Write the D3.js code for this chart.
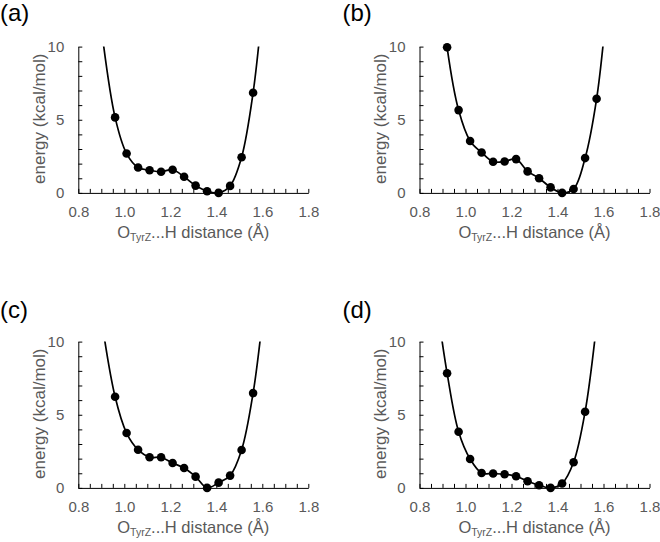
<!DOCTYPE html>
<html>
<head>
<meta charset="utf-8">
<script src="https://cdn.jsdelivr.net/npm/d3@7"></script>
<style>
  html, body { margin: 0; padding: 0; background: #fff; }
  svg { display: block; font-family: "Liberation Sans", Arial, sans-serif; }
</style>
</head>
<body>
<svg id="chart" width="660" height="542"></svg>
<script>
// ---- data ----
const panelLabels = ["(a)", "(b)", "(c)", "(d)"];
const xTickLabels = [0.8, 1.0, 1.2, 1.4, 1.6, 1.8];
const yTickLabels = [0, 5, 10];

const xA = [0.96, 1.01, 1.06, 1.11, 1.16, 1.21, 1.26, 1.31, 1.36, 1.41, 1.46, 1.51, 1.56];
const yA = [5.16, 2.69, 1.74, 1.55, 1.45, 1.58, 1.10, 0.50, 0.11, 0.00, 0.48, 2.44, 6.85];
const xB = [0.92, 0.97, 1.02, 1.07, 1.12, 1.17, 1.22, 1.27, 1.32, 1.37, 1.42, 1.47, 1.52, 1.57];
const yB = [9.95, 5.66, 3.55, 2.76, 2.13, 2.15, 2.31, 1.47, 1.00, 0.38, 0.00, 0.27, 2.38, 6.43];
const xC = [0.96, 1.01, 1.06, 1.11, 1.16, 1.21, 1.26, 1.31, 1.36, 1.41, 1.46, 1.51, 1.56];
const yC = [6.23, 3.75, 2.61, 2.09, 2.09, 1.70, 1.36, 0.77, 0.00, 0.36, 0.84, 2.59, 6.48];
const xD = [0.92, 0.97, 1.02, 1.07, 1.12, 1.17, 1.22, 1.27, 1.32, 1.37, 1.42, 1.47, 1.52];
const yD = [7.84, 3.84, 1.98, 1.02, 0.98, 0.93, 0.80, 0.45, 0.18, 0.00, 0.30, 1.75, 5.20];

// curve continuation beyond the markers (line only, clipped at the axis maximum)
const extA = { left: [0.90, 11.3], right: [1.60, 12.6] };
const extB = { left: [0.88, 16.0], right: [1.61, 12.0] };
const extC = { left: [0.90, 11.6], right: [1.60, 11.4] };
const extD = { left: [0.87, 13.2], right: [1.57, 11.2] };

const panels = [
  { label: panelLabels[0], x: xA, y: yA, ext: extA },
  { label: panelLabels[1], x: xB, y: yB, ext: extB },
  { label: panelLabels[2], x: xC, y: yC, ext: extC },
  { label: panelLabels[3], x: xD, y: yD, ext: extD }
];

// ---- layout ----
const svg = d3.select("#chart");
const plotW = 230, plotH = 146.3;
const origins = [
  { left: 78.3, top: 46.6, labelX: 0, labelY: 20.7 },
  { left: 419.5, top: 46.6, labelX: 342.5, labelY: 20.7 },
  { left: 78.3, top: 341.6, labelX: 0, labelY: 317.7 },
  { left: 419.5, top: 341.6, labelX: 342.5, labelY: 317.7 }
];
const textGray = "#595959";
const tickFont = 15;

panels.forEach((p, i) => {
  const o = origins[i];
  const g = svg.append("g").attr("transform", `translate(${o.left},${o.top})`);
  const x = d3.scaleLinear().domain([0.8, 1.8]).range([0, plotW]);
  const y = d3.scaleLinear().domain([0, 10]).range([plotH, 0]);

  // panel label
  svg.append("text")
    .attr("x", o.labelX).attr("y", o.labelY)
    .attr("font-size", 24).attr("fill", "#000")
    .text(p.label);

  // clip for line
  const clipId = "clip" + i;
  g.append("clipPath").attr("id", clipId)
    .append("rect").attr("x", 0).attr("y", 0).attr("width", plotW).attr("height", plotH + 10);

  // minor ticks (inside)
  g.append("g").attr("transform", `translate(0,${plotH})`)
    .call(d3.axisBottom(x).tickValues(x.ticks(20)).tickSizeInner(-4).tickSizeOuter(0).tickFormat(""))
    .call(a => a.select(".domain").remove())
    .call(a => a.selectAll("line").attr("stroke", "#000").attr("stroke-width", 1));
  g.append("g")
    .call(d3.axisLeft(y).tickValues(y.ticks(10)).tickSizeInner(-4).tickSizeOuter(0).tickFormat(""))
    .call(a => a.select(".domain").remove())
    .call(a => a.selectAll("line").attr("stroke", "#000").attr("stroke-width", 1));

  // main axes with labels
  const xa = g.append("g").attr("transform", `translate(0,${plotH})`)
    .call(d3.axisBottom(x).tickValues(xTickLabels).tickSize(0).tickPadding(13).tickFormat(d3.format(".1f")));
  xa.select(".domain").attr("stroke", "#000").attr("stroke-width", 1);
  xa.selectAll("text").attr("font-size", tickFont).attr("fill", textGray).attr("font-family", "Liberation Sans, Arial, sans-serif");

  const ya = g.append("g")
    .call(d3.axisLeft(y).tickValues(yTickLabels).tickSize(0).tickPadding(14).tickFormat(d3.format("d")));
  ya.select(".domain").attr("stroke", "#000").attr("stroke-width", 1);
  ya.selectAll("text").attr("font-size", tickFont).attr("fill", textGray).attr("font-family", "Liberation Sans, Arial, sans-serif");

  // axis titles
  const xt = g.append("text")
    .attr("x", plotW / 2).attr("y", plotH + 45.5)
    .attr("text-anchor", "middle").attr("font-size", 16.5).attr("fill", textGray);
  xt.append("tspan").text("O");
  xt.append("tspan").attr("font-size", 10.5).attr("dy", 3).text("TyrZ");
  xt.append("tspan").attr("dy", -3).text("...H distance (Å)");

  g.append("text")
    .attr("transform", `translate(${-33.5},${plotH / 2 - 1}) rotate(-90)`)
    .attr("text-anchor", "middle").attr("font-size", 17).attr("fill", textGray)
    .text("energy (kcal/mol)");

  // line
  const pts = p.x.map((xv, k) => [xv, p.y[k]]);
  const linePts = [p.ext.left, ...pts, p.ext.right];
  const line = d3.line().x(d => x(d[0])).y(d => y(d[1])).curve(d3.curveCatmullRom.alpha(0.5));
  g.append("path")
    .attr("clip-path", `url(#${clipId})`)
    .attr("d", line(linePts))
    .attr("fill", "none").attr("stroke", "#000").attr("stroke-width", 1.7);

  // markers
  g.selectAll("circle.pt").data(pts).join("circle")
    .attr("class", "pt")
    .attr("cx", d => x(d[0])).attr("cy", d => y(d[1]))
    .attr("r", 4.3).attr("fill", "#000");
});
</script>
</body>
</html>
